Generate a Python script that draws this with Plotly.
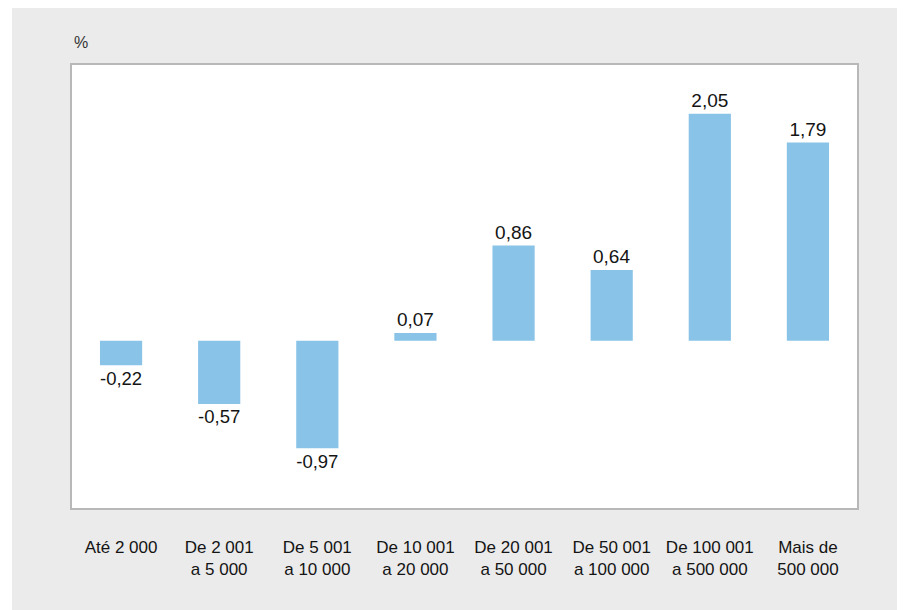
import plotly.graph_objs as go

categorias = ['Até 2 000', 'De 2 001<br>a 5 000', 'De 5 001<br>a 10 000', 'De 10 001<br>a 20 000',
              'De 20 001<br>a 50 000', 'De 50 001<br>a 100 000', 'De 100 001<br>a 500 000',
              'Mais de<br>500 000']
valores = [-0.22, -0.57, -0.97, 0.07, 0.86, 0.64, 2.05, 1.79]
rotulos = [f"{v:.2f}".replace('.', ',') for v in valores]

fig = go.Figure()
fig.add_trace(go.Bar(
    x=categorias,
    y=valores,
    text=rotulos,
    textposition='outside',
    cliponaxis=False,
    textfont=dict(size=19, color='#141414'),
    marker=dict(color='#89c3e7', line=dict(width=0)),
    hoverinfo='skip'
))

# fundo cinza (com a faixa branca à esquerda/topo)
fig.add_shape(type='rect', xref='paper', yref='paper',
              x0=-0.0764, x1=1.0586, y0=-0.23, y1=1.1287,
              fillcolor='#ebebeb', line=dict(width=0), layer='below')
fig.add_shape(type='rect', xref='paper', yref='paper',
              x0=0, x1=1, y0=0, y1=1,
              fillcolor='white', line=dict(width=0), layer='below')

fig.add_annotation(text='%', xref='paper', yref='paper', x=0.0, y=1.028,
                   xanchor='left', yanchor='bottom', showarrow=False,
                   font=dict(size=16, color='#333333'))

fig.update_layout(
    width=897, height=602,
    margin=dict(l=64, r=48, t=57, b=102),
    paper_bgcolor='white',
    plot_bgcolor='rgba(0,0,0,0)',
    font=dict(family='Liberation Sans, Arial, sans-serif', size=17, color='#141414'),
    bargap=0.57,
    showlegend=False,
    xaxis=dict(showline=True, mirror=True, linecolor='#b8b8b8', linewidth=1.5,
               ticks='outside', ticklen=23, tickcolor='rgba(0,0,0,0)',
               tickfont=dict(size=17, color='#141414'), showgrid=False, zeroline=False),
    yaxis=dict(range=[-1.51, 2.49], showline=True, mirror=True, linecolor='#b8b8b8',
               linewidth=1.5, showticklabels=False, ticks='', showgrid=False, zeroline=False),
)

fig.write_html("out.html")
